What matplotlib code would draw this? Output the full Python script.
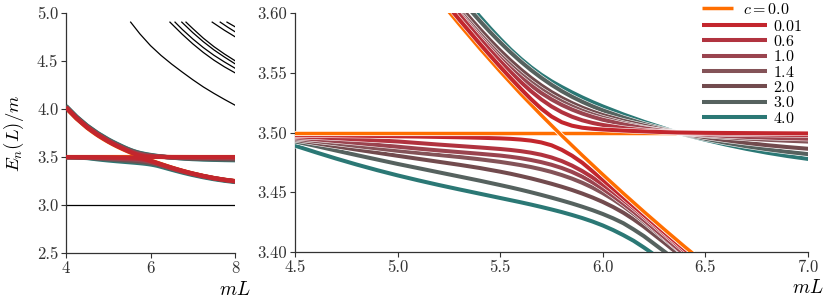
import numpy as np
import matplotlib
matplotlib.use('Agg')
import matplotlib.pyplot as plt
import matplotlib.patheffects as pe
from matplotlib.ticker import FormatStrFormatter

plt.rcParams.update({
    'font.family': 'serif',
    'font.serif': ['cmr10'],
    'mathtext.fontset': 'cm',
    'axes.formatter.use_mathtext': True,
    'axes.unicode_minus': False,
})

# ---------------- data ----------------
c_values = [0.01, 0.6, 1.0, 1.4, 2.0, 3.0, 4.0]
c_labels = ['$0.01$', '$0.6$', '$1.0$', '$1.4$', '$2.0$', '$3.0$', '$4.0$']
c0_label = '$c = 0.0$'
c_colors = ['#c3262d', '#b1333f', '#9a444f', '#845358', '#724b4e', '#56625f', '#2b7875']
c0_color = '#ff6e00'

# c = 0 : flat level and falling level
L_flat = [4.0, 8.0]
E_flat = [3.5, 3.5]
L_diag = [4.0, 4.25, 4.5, 4.6, 4.7, 4.8, 4.9, 5.0, 5.1, 5.2, 5.25, 5.3, 5.4, 5.5, 5.6, 5.7, 5.8,
          5.9, 6.0, 6.1, 6.2, 6.3, 6.4, 6.5, 6.6, 6.7, 6.8, 6.9, 7.0, 7.25, 7.5, 7.75, 8.0]
E_diag = [4.011, 3.8986, 3.8036, 3.7706, 3.7396, 3.7106, 3.6836, 3.6581, 3.6341, 3.6116, 3.601,
          3.5906, 3.5704, 3.551, 3.5323, 3.5145, 3.4974, 3.4809, 3.4648, 3.4491, 3.4338, 3.4189,
          3.4043, 3.3903, 3.3768, 3.3639, 3.3516, 3.3399, 3.3287, 3.3034, 3.2817, 3.2638, 3.2494]

# lower branch for c > 0
L_low = [4.0, 4.25, 4.5, 4.6, 4.7, 4.8, 4.9, 5.0, 5.1, 5.2, 5.3, 5.4, 5.5, 5.55, 5.6, 5.65, 5.7,
         5.75, 5.8, 5.85, 5.9, 5.95, 6.0, 6.05, 6.1, 6.15, 6.2, 6.3, 6.4, 6.5, 6.6, 6.7, 6.8, 6.9,
         7.0, 7.25, 7.5, 7.75, 8.0]
E_low_001 = [3.499, 3.4985, 3.4978, 3.4977, 3.4975, 3.4973, 3.4971, 3.4968, 3.4966, 3.4963, 3.496,
             3.4956, 3.4951, 3.4947, 3.4941, 3.4932, 3.4917, 3.4893, 3.4855, 3.4806, 3.4747,
             3.4676, 3.4604, 3.4531, 3.4458, 3.4384, 3.4311, 3.4165, 3.4021, 3.3883, 3.375,
             3.3622, 3.35, 3.3384, 3.3273, 3.3022, 3.2806, 3.2628, 3.2485]
E_low_06 = [3.4988, 3.4982, 3.4968, 3.496, 3.4952, 3.4943, 3.4934, 3.4925, 3.4912, 3.4899, 3.4887,
            3.4875, 3.4862, 3.4854, 3.4844, 3.4831, 3.4814, 3.4791, 3.4761, 3.4723, 3.4677, 3.4624,
            3.4565, 3.4502, 3.4436, 3.4367, 3.4296, 3.4152, 3.4006, 3.3867, 3.3735, 3.3608, 3.3487,
            3.3372, 3.3262, 3.3012, 3.2798, 3.2621, 3.2479]
E_low_10 = [3.4986, 3.4977, 3.4958, 3.4943, 3.4928, 3.4913, 3.4897, 3.4881, 3.4865, 3.485, 3.4836,
            3.4822, 3.4807, 3.4797, 3.4785, 3.477, 3.4752, 3.473, 3.4703, 3.467, 3.463, 3.4583,
            3.4529, 3.4469, 3.4405, 3.4338, 3.4268, 3.4124, 3.3978, 3.3842, 3.3712, 3.3588, 3.3469,
            3.3356, 3.3247, 3.3, 3.2788, 3.2613, 3.2472]
E_low_14 = [3.4984, 3.4972, 3.4948, 3.4928, 3.4908, 3.4887, 3.4867, 3.4847, 3.4829, 3.4812, 3.4795,
            3.4776, 3.4754, 3.4741, 3.4727, 3.4711, 3.4692, 3.467, 3.4644, 3.4614, 3.4579, 3.4539,
            3.4493, 3.4441, 3.4383, 3.432, 3.4253, 3.4114, 3.3972, 3.3837, 3.3708, 3.3584, 3.3466,
            3.3353, 3.3244, 3.2997, 3.2785, 3.261, 3.2469]
E_low_20 = [3.4982, 3.4967, 3.4938, 3.4911, 3.4884, 3.4857, 3.4831, 3.4805, 3.478, 3.4755, 3.473,
            3.4703, 3.4672, 3.4655, 3.4636, 3.4616, 3.4594, 3.4571, 3.4546, 3.4519, 3.4489, 3.4456,
            3.4419, 3.4377, 3.4329, 3.4274, 3.4213, 3.4078, 3.3938, 3.38, 3.3672, 3.355, 3.3434,
            3.3323, 3.3216, 3.2974, 3.2765, 3.2593, 3.2454]
E_low_30 = [3.498, 3.496, 3.4925, 3.4888, 3.4849, 3.4811, 3.4774, 3.4737, 3.4702, 3.4667, 3.4632,
            3.4597, 3.456, 3.4541, 3.4521, 3.45, 3.4478, 3.4455, 3.4431, 3.4406, 3.4379, 3.435,
            3.4318, 3.4282, 3.4241, 3.4189, 3.4133, 3.4004, 3.3876, 3.3751, 3.363, 3.3513, 3.3401,
            3.3294, 3.319, 3.2954, 3.2749, 3.258, 3.2443]
E_low_40 = [3.4975, 3.4945, 3.489, 3.4835, 3.4782, 3.4732, 3.4685, 3.4641, 3.46, 3.4561, 3.4524,
            3.4488, 3.4452, 3.4434, 3.4416, 3.4397, 3.4377, 3.4356, 3.4334, 3.431, 3.4284, 3.4255,
            3.4222, 3.4184, 3.4141, 3.4094, 3.4038, 3.3919, 3.3796, 3.3675, 3.3556, 3.3441, 3.333,
            3.3224, 3.3122, 3.289, 3.2691, 3.2526, 3.2394]

# upper branch for c > 0
L_up = [4.0, 4.25, 4.5, 4.75, 5.0, 5.1, 5.2, 5.25, 5.3, 5.35, 5.4, 5.45, 5.5, 5.55, 5.6, 5.65, 5.7,
        5.75, 5.8, 5.85, 5.9, 5.95, 6.0, 6.1, 6.2, 6.3, 6.36, 6.4, 6.5, 6.6, 6.7, 6.8, 6.9, 7.0,
        7.25, 7.5, 7.75, 8.0]
E_up_001 = [4.015, 3.9026, 3.8076, 3.7289, 3.6621, 3.6381, 3.6156, 3.605, 3.5946, 3.5845, 3.5744,
            3.5646, 3.555, 3.5457, 3.5366, 3.5279, 3.52, 3.5134, 3.5086, 3.5057, 3.504, 3.5031,
            3.5025, 3.5016, 3.5009, 3.5003, 3.5, 3.4999, 3.4997, 3.4996, 3.4995, 3.4994, 3.4993,
            3.4992, 3.499, 3.4989, 3.4988, 3.4987]
E_up_06 = [4.0175, 3.9055, 3.8107, 3.7322, 3.6656, 3.6417, 3.6193, 3.609, 3.5988, 3.5886, 3.5786,
           3.5689, 3.5596, 3.5507, 3.5423, 3.5346, 3.5277, 3.5218, 3.517, 3.5132, 3.5102, 3.508,
           3.5063, 3.5037, 3.5018, 3.5005, 3.5, 3.4997, 3.4991, 3.4987, 3.4984, 3.4982, 3.498,
           3.4979, 3.4976, 3.4973, 3.4971, 3.4969]
E_up_10 = [4.018, 3.9061, 3.8116, 3.7334, 3.667, 3.6432, 3.6209, 3.6105, 3.6003, 3.5902, 3.5804,
           3.571, 3.5621, 3.5538, 3.5462, 3.5393, 3.5331, 3.5277, 3.5231, 3.5192, 3.5159, 3.5131,
           3.5107, 3.5068, 3.5036, 3.5011, 3.5, 3.4994, 3.4981, 3.4971, 3.4963, 3.4957, 3.4952,
           3.4948, 3.494, 3.4934, 3.4929, 3.4925]
E_up_14 = [4.0198, 3.908, 3.8136, 3.7355, 3.6692, 3.6454, 3.6231, 3.6126, 3.6024, 3.5924, 3.5827,
           3.5734, 3.5646, 3.5564, 3.5489, 3.5421, 3.536, 3.5306, 3.5259, 3.5218, 3.5182, 3.5151,
           3.5124, 3.5079, 3.5042, 3.5013, 3.5, 3.4992, 3.4975, 3.4961, 3.4949, 3.4939, 3.4931,
           3.4924, 3.4911, 3.4901, 3.4893, 3.4887]
E_up_20 = [4.024, 3.9121, 3.8176, 3.7394, 3.6731, 3.6493, 3.6269, 3.6164, 3.6063, 3.5963, 3.5866,
           3.5773, 3.5685, 3.5603, 3.5527, 3.5457, 3.5394, 3.5338, 3.5289, 3.5246, 3.5208, 3.5175,
           3.5146, 3.5098, 3.5058, 3.5021, 3.5, 3.4988, 3.496, 3.4935, 3.4913, 3.4894, 3.4878,
           3.4864, 3.4836, 3.4815, 3.4799, 3.4787]
E_up_30 = [4.0288, 3.9175, 3.8236, 3.7459, 3.6798, 3.6561, 3.6338, 3.6234, 3.6132, 3.6032, 3.5935,
           3.5842, 3.5754, 3.5671, 3.5594, 3.5523, 3.5458, 3.5399, 3.5346, 3.5299, 3.5257, 3.5219,
           3.5185, 3.5125, 3.5072, 3.5026, 3.5, 3.4984, 3.4947, 3.4914, 3.4885, 3.486, 3.4838,
           3.4819, 3.478, 3.4749, 3.4725, 3.4706]
E_up_40 = [4.032, 3.9211, 3.8276, 3.7499, 3.684, 3.6608, 3.6388, 3.6285, 3.6178, 3.6072, 3.5971,
           3.5874, 3.5782, 3.5695, 3.5617, 3.5546, 3.5483, 3.5428, 3.538, 3.5335, 3.5293, 3.5254,
           3.5218, 3.5151, 3.509, 3.5034, 3.5, 3.4982, 3.4939, 3.4899, 3.4863, 3.4831, 3.4803,
           3.4779, 3.4735, 3.4703, 3.4678, 3.466]

E_low_rows = [E_low_001, E_low_06, E_low_10, E_low_14, E_low_20, E_low_30, E_low_40]
E_up_rows = [E_up_001, E_up_06, E_up_10, E_up_14, E_up_20, E_up_30, E_up_40]

# thin black levels (left panel)
L_thr = [4.0, 8.0]
E_thr = [3.0, 3.0]
L_b1 = [5.53, 5.75, 6.0, 6.25, 6.5, 6.75, 7.0, 7.25, 7.5, 7.75, 8.0]
E_b1 = [4.905, 4.782, 4.66, 4.558, 4.468, 4.385, 4.305, 4.23, 4.163, 4.1, 4.04]
L_b2 = [6.46, 6.75, 7.0, 7.25, 7.5, 7.75, 8.0]
E_b2 = [4.905, 4.779, 4.679, 4.589, 4.509, 4.439, 4.377]
L_b3 = [6.58, 6.75, 7.0, 7.25, 7.5, 7.75, 8.0]
E_b3 = [4.905, 4.83, 4.73, 4.64, 4.56, 4.49, 4.425]
L_b4 = [6.74, 7.0, 7.25, 7.5, 7.75, 8.0]
E_b4 = [4.905, 4.796, 4.701, 4.616, 4.541, 4.471]
L_b5 = [6.84, 7.0, 7.25, 7.5, 7.75, 8.0]
E_b5 = [4.905, 4.838, 4.738, 4.65, 4.573, 4.503]
L_b6 = [7.46, 7.75, 8.0]
E_b6 = [4.905, 4.82, 4.753]
L_b7 = [7.65, 7.825, 8.0]
E_b7 = [4.905, 4.853, 4.805]
L_b8 = [7.81, 8.0]
E_b8 = [4.905, 4.857]
black_L = [L_thr, L_b1, L_b2, L_b3, L_b4, L_b5, L_b6, L_b7, L_b8]
black_E = [E_thr, E_b1, E_b2, E_b3, E_b4, E_b5, E_b6, E_b7, E_b8]

# ---------------- figure ----------------
fig = plt.figure(figsize=(8.3, 3.04), dpi=100)
ax1 = fig.add_axes([66 / 830, 51 / 304, 169 / 830, 240 / 304])
ax2 = fig.add_axes([295 / 830, 52 / 304, 513 / 830, 239 / 304])

LW = 2.9
stroke = [pe.Stroke(linewidth=LW + 0.8, foreground='white'), pe.Normal()]


def colored(ax, L, E, color, z, lw=LW, effects=True):
    kw = dict(path_effects=stroke) if effects else {}
    return ax.plot(L, E, color=color, lw=lw, solid_capstyle='butt', zorder=z, **kw)[0]


# left panel (red drawn last, on top)
for L, E in zip(black_L, black_E):
    ax1.plot(L, E, color='black', lw=0.9, zorder=1)
colored(ax1, L_flat, E_flat, c0_color, 2, lw=3.0, effects=False)
colored(ax1, L_diag, E_diag, c0_color, 2, lw=3.0, effects=False)
for i in reversed(range(len(c_values))):
    z = 3 + (len(c_values) - i)
    colored(ax1, L_low, E_low_rows[i], c_colors[i], z, lw=3.0, effects=False)
    colored(ax1, L_up, E_up_rows[i], c_colors[i], z, lw=3.0, effects=False)

# right panel: lower branches, then c = 0, then upper branches
n = len(c_values)
c_handles = [None] * n
for i in reversed(range(n)):
    c_handles[i] = colored(ax2, L_low, E_low_rows[i], c_colors[i], 3 + (n - i))
h0 = colored(ax2, L_flat, E_flat, c0_color, 12, lw=2.5)
colored(ax2, L_diag, E_diag, c0_color, 12, lw=2.5)
for i in reversed(range(n)):
    colored(ax2, L_up, E_up_rows[i], c_colors[i], 13 + (n - i))

ax1.set_xlim(4, 8)
ax1.set_ylim(2.5, 5.0)
ax1.set_xticks([4, 6, 8])
ax1.set_yticks([2.5, 3.0, 3.5, 4.0, 4.5, 5.0])
ax1.xaxis.set_major_formatter(FormatStrFormatter('%d'))
ax1.yaxis.set_major_formatter(FormatStrFormatter('%.1f'))

ax2.set_xlim(4.5, 7.0)
ax2.set_ylim(3.40, 3.60)
ax2.set_xticks([4.5, 5.0, 5.5, 6.0, 6.5, 7.0])
ax2.set_yticks([3.40, 3.45, 3.50, 3.55, 3.60])
ax2.xaxis.set_major_formatter(FormatStrFormatter('%.1f'))
ax2.yaxis.set_major_formatter(FormatStrFormatter('%.2f'))

for ax in (ax1, ax2):
    for s in ('top', 'right'):
        ax.spines[s].set_visible(False)
    for s in ('left', 'bottom'):
        ax.spines[s].set_color('#333333')
        ax.spines[s].set_linewidth(0.9)
    ax.tick_params(direction='out', length=3.5, width=0.8, colors='#333333',
                   labelsize=12, pad=2)
    ax.set_xlabel('$mL$', fontsize=14)
    ax.xaxis.set_label_coords(1.0, -0.115)

ax1.set_ylabel('$E_n(L)/m$', fontsize=13.5)
ax1.yaxis.set_label_coords(-0.235, 0.5)

FS = 11.5
em = FS * 100 / 72.0
x_left = 701.7 / 830
legA = ax2.legend(c_handles, c_labels, loc='upper left',
                  bbox_to_anchor=(x_left, (304 - 3 - 15.6) / 304), bbox_transform=fig.transFigure,
                  frameon=False, fontsize=FS, handlelength=65 / em, handletextpad=6.3 / em,
                  labelspacing=0.02, borderpad=0, borderaxespad=0)
legA.set_zorder(30)
ax2.add_artist(legA)
legB = ax2.legend([h0], [c0_label], loc='upper left',
                  bbox_to_anchor=(x_left, (304 - 2) / 304), bbox_transform=fig.transFigure,
                  frameon=False, fontsize=FS, handlelength=31 / em, handletextpad=10 / em,
                  borderpad=0, borderaxespad=0)
legB.set_zorder(30)

fig.savefig('out.png', dpi=100)
